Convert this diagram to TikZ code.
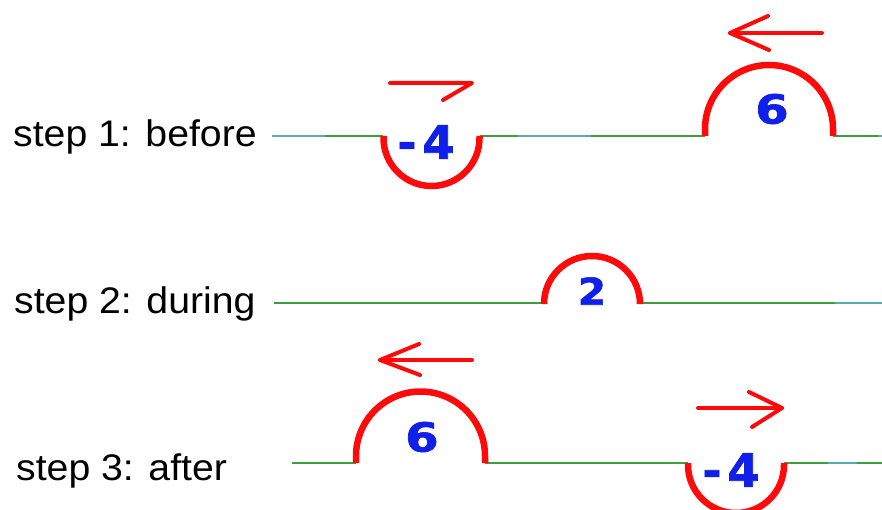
\documentclass[tikz,border=0pt]{standalone}
\usepackage{fontspec}
\setmainfont{Liberation Sans}
\newfontfamily\numfont{DejaVu Sans}[BoldFeatures={FakeBold=1.6}]
\definecolor{wred}{HTML}{FF0A0A}
\definecolor{wblue}{HTML}{1020E8}
\definecolor{wgreen}{HTML}{3C9E3C}
\definecolor{wcyan}{HTML}{5AAAB4}
\begin{document}
\begin{tikzpicture}[x=1pt,y=-1pt,
  lbl/.style={inner sep=0pt,anchor=base west,font=\fontsize{37}{44}\selectfont},
  num/.style={inner sep=0pt,text=wblue,font=\numfont\bfseries},
  rope/.style={draw=wgreen,line width=2pt},
  ropec/.style={draw=wcyan,line width=2pt},
  pulse/.style={draw=wred,line width=6.5pt},
  mov/.style={draw=wred,line width=4pt,line cap=round,line join=round}]
\useasboundingbox (0,0) rectangle (882,510);
% labels
\node[lbl] (s1) at (13,147) {\scalebox{1.06}[1]{step 1: before}};
\node[lbl] (s2) at (14,313) {\scalebox{1.06}[1]{step 2: during}};
\node[lbl] (s3) at (16,480) {\scalebox{1.06}[1]{step 3: after}};
% ---- row 1
\draw[rope] (272,136) -- (383,136);
\draw[rope] (480,136) -- (705,136);
\draw[rope] (833,136) -- (882,136);
\draw[ropec] (272,136) -- (325,136);
\draw[ropec] (518,136) -- (591,136);
\draw[ropec] (878,136) -- (882,136);
\draw[pulse] (383.5,136) -- (383.5,138) arc[start angle=180,end angle=0,x radius=48,y radius=48] -- (479.5,136);
\draw[pulse] (705,136) -- (705,129) arc[start angle=180,end angle=360,x radius=64,y radius=64] -- (833,136);
\node[num,font=\numfont\bfseries\fontsize{46}{50}\selectfont] (n1) at (426,142) {-\kern6pt 4};
\node[num,font=\numfont\bfseries\fontsize{40}{44}\selectfont] (n2) at (772,109) {\scalebox{1.2}[1]{6}};
\coordinate (a1s) at (390,83); \coordinate (a1t) at (472,83); \coordinate (a1b) at (443,100);
\draw[mov] (a1s) -- (a1t) -- (a1b);
\coordinate (a2s) at (822,33); \coordinate (a2t) at (730,33);
\coordinate (a2u) at (768,16); \coordinate (a2d) at (769,50);
\draw[mov] (a2s) -- (a2t);
\draw[mov] (a2u) -- (a2t) -- (a2d);
% ---- row 2
\draw[rope] (274,303) -- (544,303);
\draw[rope] (640,303) -- (882,303);
\draw[ropec] (835,303) -- (882,303);
\draw[pulse] (544,303) -- (544,304) arc[start angle=180,end angle=360,x radius=48,y radius=48] -- (640,303);
\node[num,font=\numfont\bfseries\fontsize{37}{42}\selectfont] (n3) at (592,291) {\scalebox{1.1}[1]{2}};
% ---- row 3
\draw[rope] (292,463) -- (356,463);
\draw[rope] (485,463) -- (688,463);
\draw[rope] (784,463) -- (882,463);
\draw[ropec] (828,463) -- (857,463);
\draw[pulse] (356,463) -- (356,456) arc[start angle=180,end angle=360,x radius=64.5,y radius=64.5] -- (485,463);
\draw[pulse] (688,463) -- (688,465) arc[start angle=180,end angle=0,x radius=48,y radius=48] -- (784,463);
\node[num,font=\numfont\bfseries\fontsize{40}{44}\selectfont] (n4) at (422,437) {\scalebox{1.2}[1]{6}};
\node[num,font=\numfont\bfseries\fontsize{46}{50}\selectfont] (n5) at (731,470) {-\kern6pt 4};
\coordinate (a3s) at (472,360); \coordinate (a3t) at (380,360);
\coordinate (a3u) at (419,344); \coordinate (a3d) at (420,375);
\draw[mov] (a3s) -- (a3t);
\draw[mov] (a3u) -- (a3t) -- (a3d);
\coordinate (a4s) at (698,408); \coordinate (a4t) at (782,408);
\coordinate (a4u) at (749,392); \coordinate (a4d) at (752,427);
\draw[mov] (a4s) -- (a4t);
\draw[mov] (a4u) -- (a4t) -- (a4d);
\end{tikzpicture}
\end{document}
